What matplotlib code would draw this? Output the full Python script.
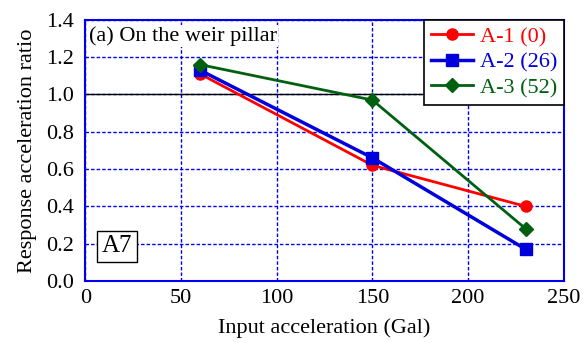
import numpy as np
import matplotlib.pyplot as plt

plt.rcParams['font.family'] = ['Liberation Serif', 'DejaVu Serif']

# input acceleration (Gal) and response ratio for each case
input_acc = [60, 150, 230]
a1 = [1.11, 0.62, 0.40]
a2 = [1.13, 0.66, 0.17]
a3 = [1.16, 0.97, 0.28]
labels = ['A-1 (0)', 'A-2 (26)', 'A-3 (52)']
colors = ['#ff0000', '#0000dd', '#006010']

fig = plt.figure(figsize=(5.88, 3.43), dpi=100)
ax = fig.add_axes([0.145, 0.181, 0.814, 0.761])

ax.plot(input_acc, a1, color=colors[0], lw=2, marker='o', ms=8, label=labels[0], zorder=3)
ax.plot(input_acc, a2, color=colors[1], lw=2.5, marker='s', ms=8.5, label=labels[1], zorder=4)
ax.plot(input_acc, a3, color=colors[2], lw=2, marker='D', ms=7, label=labels[2], zorder=5)

ax.set_xlim(0, 250)
ax.set_ylim(0, 1.4)
ax.set_xticks(np.arange(0, 251, 50))
ax.set_yticks(np.arange(0, 1.41, 0.2))
ax.set_yticklabels(['%.1f' % v for v in np.arange(0, 1.41, 0.2)])
ax.grid(True, color='#0000ee', ls=(0, (2.5, 1.5)), lw=1)
ax.axhline(1.0, color='black', lw=1, zorder=2)
for s in ax.spines.values():
    s.set_color('#0000ee')
    s.set_linewidth(1.5)
ax.tick_params(labelsize=16, length=0)
ax.tick_params(axis='y', pad=8)
ax.tick_params(axis='x', pad=6)

ax.set_xlabel('Input acceleration (Gal)', fontsize=16, labelpad=7)
ax.set_ylabel('Response acceleration ratio', fontsize=16, labelpad=7)

ax.text(2, 1.365, '(a) On the weir pillar', fontsize=16, va='top', ha='left',
        bbox=dict(facecolor='white', edgecolor='none', boxstyle='square,pad=0.05'))
ax.text(8.5, 0.185, 'A7', fontsize=18, va='center', ha='left',
        bbox=dict(facecolor='white', edgecolor='black', boxstyle='square,pad=0.18'))

leg = ax.legend(loc='upper right', fontsize=16, fancybox=False, framealpha=1,
                edgecolor='black', borderaxespad=0.0, handlelength=1.9,
                handletextpad=0.3, labelspacing=0.22, borderpad=0.3)
leg.get_frame().set_linewidth(1.2)
for txt, c in zip(leg.get_texts(), colors):
    txt.set_color(c)

fig.savefig('out.png', dpi=100)
